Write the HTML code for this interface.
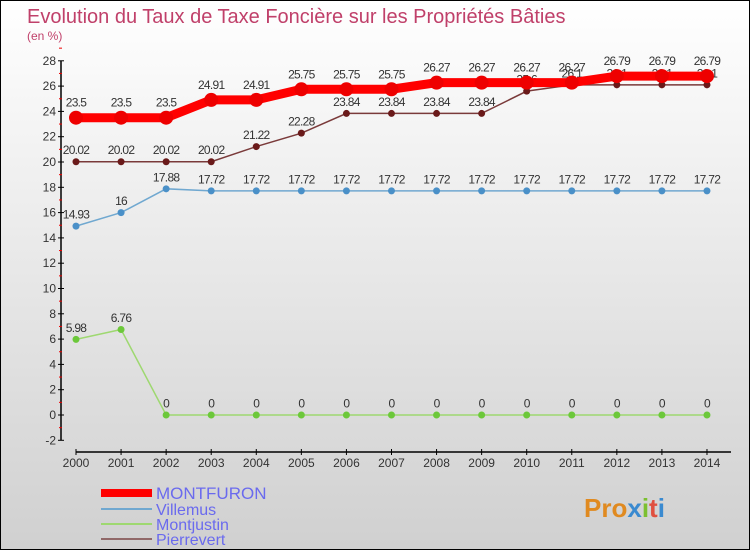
<!DOCTYPE html>
<html><head><meta charset="utf-8"><style>
body{margin:0;width:750px;height:550px;overflow:hidden;font-family:"Liberation Sans",sans-serif}
#c{position:absolute;left:0;top:0;width:748px;height:548px;border:1px solid #000;background:linear-gradient(#fff,#ececec 40%,#d0d0d0)}
</style></head><body>
<div id="c">
<svg id="s" width="748" height="548" xmlns="http://www.w3.org/2000/svg">
<text x="26" y="22" font-size="20" fill="#c0406a">Evolution du Taux de Taxe Foncière sur les Propriétés Bâties</text>
<text x="26" y="39" font-size="12" fill="#c0406a">(en %)</text>
<g id="axes"></g><g id="series"></g><g id="legend"></g>
<g font-size="26" font-weight="bold">
<text x="583" y="516" fill="#e08a20">Pro<tspan fill="#3a8ad0">x</tspan><tspan fill="#7cc030">i</tspan><tspan fill="#e05040">t</tspan><tspan fill="#3a8ad0">i</tspan></text>
</g>
</svg></div>
<script>
const years=[2000,2001,2002,2003,2004,2005,2006,2007,2008,2009,2010,2011,2012,2013,2014];
const montfuron=[23.5,23.5,23.5,24.91,24.91,25.75,25.75,25.75,26.27,26.27,26.27,26.27,26.79,26.79,26.79];
const villemus=[14.93,16,17.88,17.72,17.72,17.72,17.72,17.72,17.72,17.72,17.72,17.72,17.72,17.72,17.72];
const montjustin=[5.98,6.76,0,0,0,0,0,0,0,0,0,0,0,0,0];
const pierrevert=[20.02,20.02,20.02,20.02,21.22,22.28,23.84,23.84,23.84,23.84,25.6,26.1,26.1,26.1,26.1];
const yTicks=[-2,0,2,4,6,8,10,12,14,16,18,20,22,24,26,28];
const NS="http://www.w3.org/2000/svg";
const X=i=>75+i*45.07;
const Y=v=>414-v*12.65;
function mk(t,a,p){const e=document.createElementNS(NS,t);for(const k in a)e.setAttribute(k,a[k]);p.appendChild(e);return e;}
const ax=document.getElementById('axes');
const ya=mk('line',{x1:60,y1:Y(28),x2:60,y2:Y(-2),stroke:'#000','stroke-width':1.5},ax);


yTicks.forEach(v=>{
 mk('line',{x1:57,y1:Y(v),x2:63,y2:Y(v),stroke:'#000'},ax);
 mk('line',{x1:58,y1:Y(v+1),x2:61,y2:Y(v+1),stroke:'#e00'},ax);
 const t=mk('text',{x:55,y:Y(v)+4,'text-anchor':'end','font-size':12,fill:'#333'},ax);
 t.textContent=v;
 
 
});
const xa=mk('line',{x1:75,y1:451,x2:730,y2:451,stroke:'#000','stroke-width':1.5},ax);


years.forEach((y,i)=>{
 mk('line',{x1:X(i),y1:448,x2:X(i),y2:454,stroke:'#000'},ax);
 const t=mk('text',{x:X(i),y:466,'text-anchor':'middle','font-size':12,fill:'#333'},ax);
 t.textContent=y;
 
 
});
const sg=document.getElementById('series');
function series(name,vals,color,w,r,fc){
 const g=mk('g',{},sg);
 
 
 const l=mk('polyline',{points:vals.map((v,i)=>X(i)+','+Y(v)).join(' '),fill:'none',stroke:color,'stroke-width':w},g);
 
 
 vals.forEach((v,i)=>{
  const c=mk('circle',{cx:X(i),cy:Y(v),r:r,fill:fc},g);
  
  
  const t=mk('text',{x:X(i),y:Y(v)-r-4,'text-anchor':'middle','font-size':12,fill:'#333','letter-spacing':'-0.7'},g);
  t.textContent=v;
  
  
 });
}
series('montjustin',montjustin,'#9ed870',1.5,3.5,'#6cc83a');
series('villemus',villemus,'#70a8d0',1.5,3.5,'#4a90c8');
series('pierrevert',pierrevert,'#7a3a3a',1.5,3.5,'#6a1a1a');
series('montfuron',montfuron,'#f00',9,7,'#e00');
const lg=document.getElementById('legend');
[['MONTFURON','#f00',8,17,497],['Villemus','#70a8d0',2,16,513],['Montjustin','#9ed870',2,16,528],['Pierrevert','#906868',2,16,543]].forEach(([n,c,w,fs,y])=>{
 const e=mk('g',{},lg);
 
 
 mk('line',{x1:100,y1:y-5,x2:151,y2:y-5,stroke:c,'stroke-width':w},e);
 const t=mk('text',{x:155,y:y+1,'font-size':fs,fill:'#6a6aee'},e);
 t.textContent=n;
});
</script>
</body></html>
